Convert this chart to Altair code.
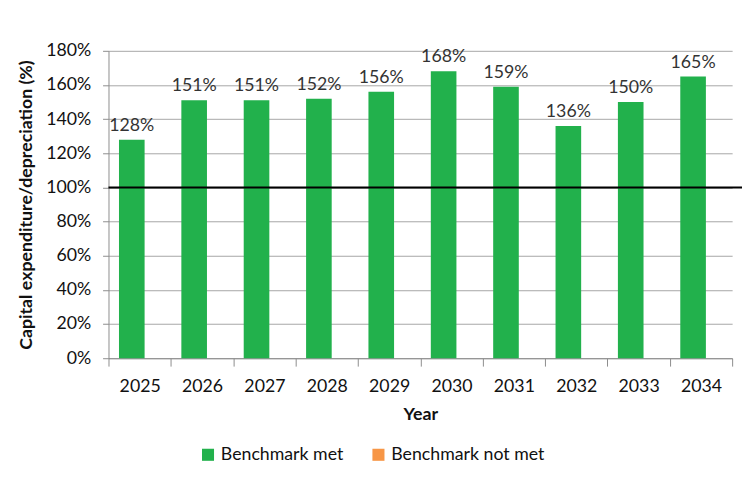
import altair as alt
import pandas as pd

years = ["2025", "2026", "2027", "2028", "2029", "2030", "2031", "2032", "2033", "2034"]
values = [128, 151, 151, 152, 156, 168, 159, 136, 150, 165]
status = ["Benchmark met"] * 10
legend_domain = ["Benchmark met", "Benchmark not met"]
legend_colors = ["#22B14C", "#F79646"]
benchmark = [100]
y_ticks = [0, 0.2, 0.4, 0.6, 0.8, 1.0, 1.2, 1.4, 1.6, 1.8]

df = pd.DataFrame({"Year": years, "Value": [v / 100 for v in values], "Status": status,
                   "Label": [f"{v}%" for v in values]})
bench_df = pd.DataFrame({"Value": [b / 100 for b in benchmark]})

FONT = "Lato"
FS = 18

x = alt.X("Year:N", sort=years, title="Year",
          scale=alt.Scale(paddingInner=0, paddingOuter=0),
          axis=alt.Axis(labelAngle=0, labelFontSize=FS, labelColor="#111111", labelPadding=12,
                        titleFontSize=FS, titleFontWeight="bold", titleColor="#111111", titlePadding=10,
                        domainColor="#8c8c8c", tickColor="#8c8c8c", tickSize=8, tickBand="extent",
                        labelFont=FONT, titleFont=FONT, labelOverlap=False))
y_axis = alt.Axis(format=".0%", values=y_ticks, tickCount=10, labelFontSize=FS, labelOverlap=False,
                  labelColor="#111111", labelPadding=12, titleFontSize=18, titleFontWeight="bold",
                  titleColor="#111111", titlePadding=10, gridColor="#a6a6a6", domainColor="#8c8c8c",
                  tickColor="#8c8c8c", tickSize=6, labelFont=FONT, titleFont=FONT)
y = alt.Y("Value:Q", title="Capital expenditure/depreciation (%)",
          scale=alt.Scale(domain=[0, 1.8], nice=False), axis=y_axis)

bars = alt.Chart(df).mark_bar(size=26, xOffset=-8).encode(
    x=x, y=y,
    color=alt.Color("Status:N", scale=alt.Scale(domain=legend_domain, range=legend_colors),
                    legend=alt.Legend(title=None, orient="none", legendX=92, legendY=401,
                                      direction="horizontal", symbolType="square", symbolSize=150,
                                      symbolStrokeWidth=0, labelFontSize=FS, labelFont=FONT,
                                      labelColor="#111111", columnPadding=26, symbolOffset=0))
)

labels = alt.Chart(df).mark_text(dy=-14, dx=-8, fontSize=FS, font=FONT, color="#333333").encode(
    x=x, y=y, text="Label:N"
)

rule = alt.Chart(bench_df).mark_rule(color="#000000", strokeWidth=2).encode(
    y=y, x=alt.value(0), x2=alt.value(645)
)

chart = alt.layer(bars, labels, rule).properties(
    width=633, height=312, autosize=alt.AutoSizeParams(type="none"),
    padding={"left": 102, "top": 40, "right": 10, "bottom": 112}
).configure_view(stroke=None)

chart.save("out.html", embed_options={"renderer": "svg", "actions": False})
